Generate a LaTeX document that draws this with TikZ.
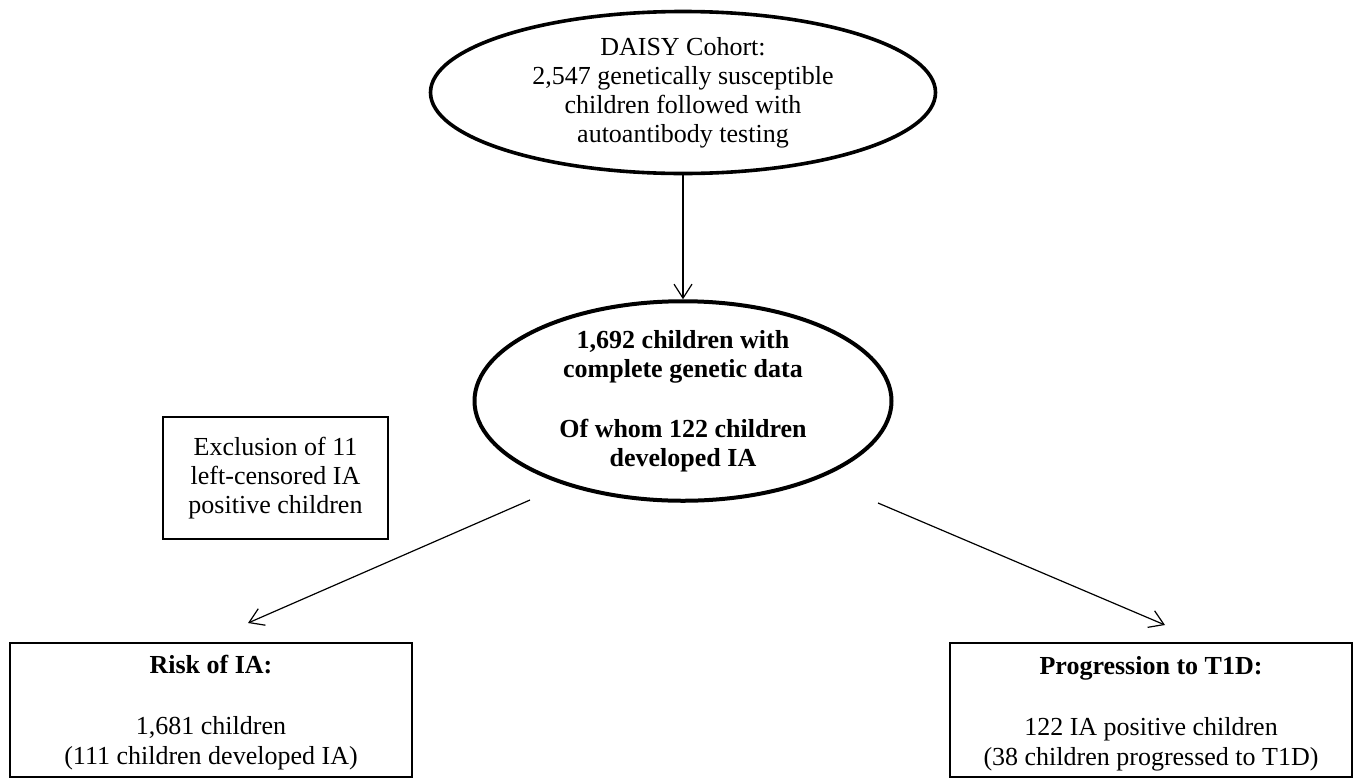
\documentclass[tikz,border=0pt]{standalone}
\usepackage{fontspec}
\setmainfont{Liberation Serif}
\usetikzlibrary{shapes.geometric,arrows.meta}
\begin{document}
\begin{tikzpicture}[x=1pt,y=-1pt,
  txt/.style={font=\fontsize{26}{29}\selectfont,align=center,text=black,inner sep=0pt},
  btxt/.style={txt,font=\fontsize{26}{29}\selectfont\bfseries},
  oval/.style={ellipse,draw=black,line width=3.6pt,inner sep=0pt,txt},
  box/.style={rectangle,draw=black,line width=2pt,inner sep=0pt,txt},
  arr/.style={line width=1.2pt,-{Straight Barb[length=14pt,width=18pt,line width=1.2pt]}}]
\useasboundingbox[fill=white] (0,0) rectangle (1355,777);
\node[oval,minimum width=505pt,minimum height=162pt] (top) at (683,92.5)
  {DAISY Cohort:\\2,547 genetically susceptible\\children followed with\\autoantibody testing};
\node[oval,line width=4pt,minimum width=417pt,minimum height=199pt,font=\fontsize{26}{28.5}\selectfont\bfseries] (mid) at (683,401)
  {1,692 children with\\complete genetic data\\[32pt]Of whom 122 children\\developed IA};
\node[box,minimum width=225pt,minimum height=122pt] (excl) at (275.5,478)
  {Exclusion of 11\\left-censored IA\\positive children};
\node[box,minimum width=402pt,minimum height=134pt,anchor=north] (risk) at (211,642) {};
\node[btxt,anchor=base] (risk1) at (211,673) {Risk of IA:};
\node[txt,anchor=base] (risk2) at (211,734) {1,681 children};
\node[txt,anchor=base] (risk3) at (211,764) {(111 children developed IA)};
\node[box,minimum width=402pt,minimum height=134pt,anchor=north] (prog) at (1151,642) {};
\node[btxt,anchor=base] (prog1) at (1151,674) {Progression to T1D:};
\node[txt,anchor=base] (prog2) at (1151,735) {122 IA positive children};
\node[txt,anchor=base] (prog3) at (1151,765) {(38 children progressed to T1D)};
\coordinate (l1) at (530,500);
\coordinate (l2) at (248,623);
\coordinate (r1) at (878,503);
\coordinate (r2) at (1165,625);
\draw[arr] (top) -- (mid);
\draw[arr] (l1) -- (l2);
\draw[arr] (r1) -- (r2);
\end{tikzpicture}
\end{document}
